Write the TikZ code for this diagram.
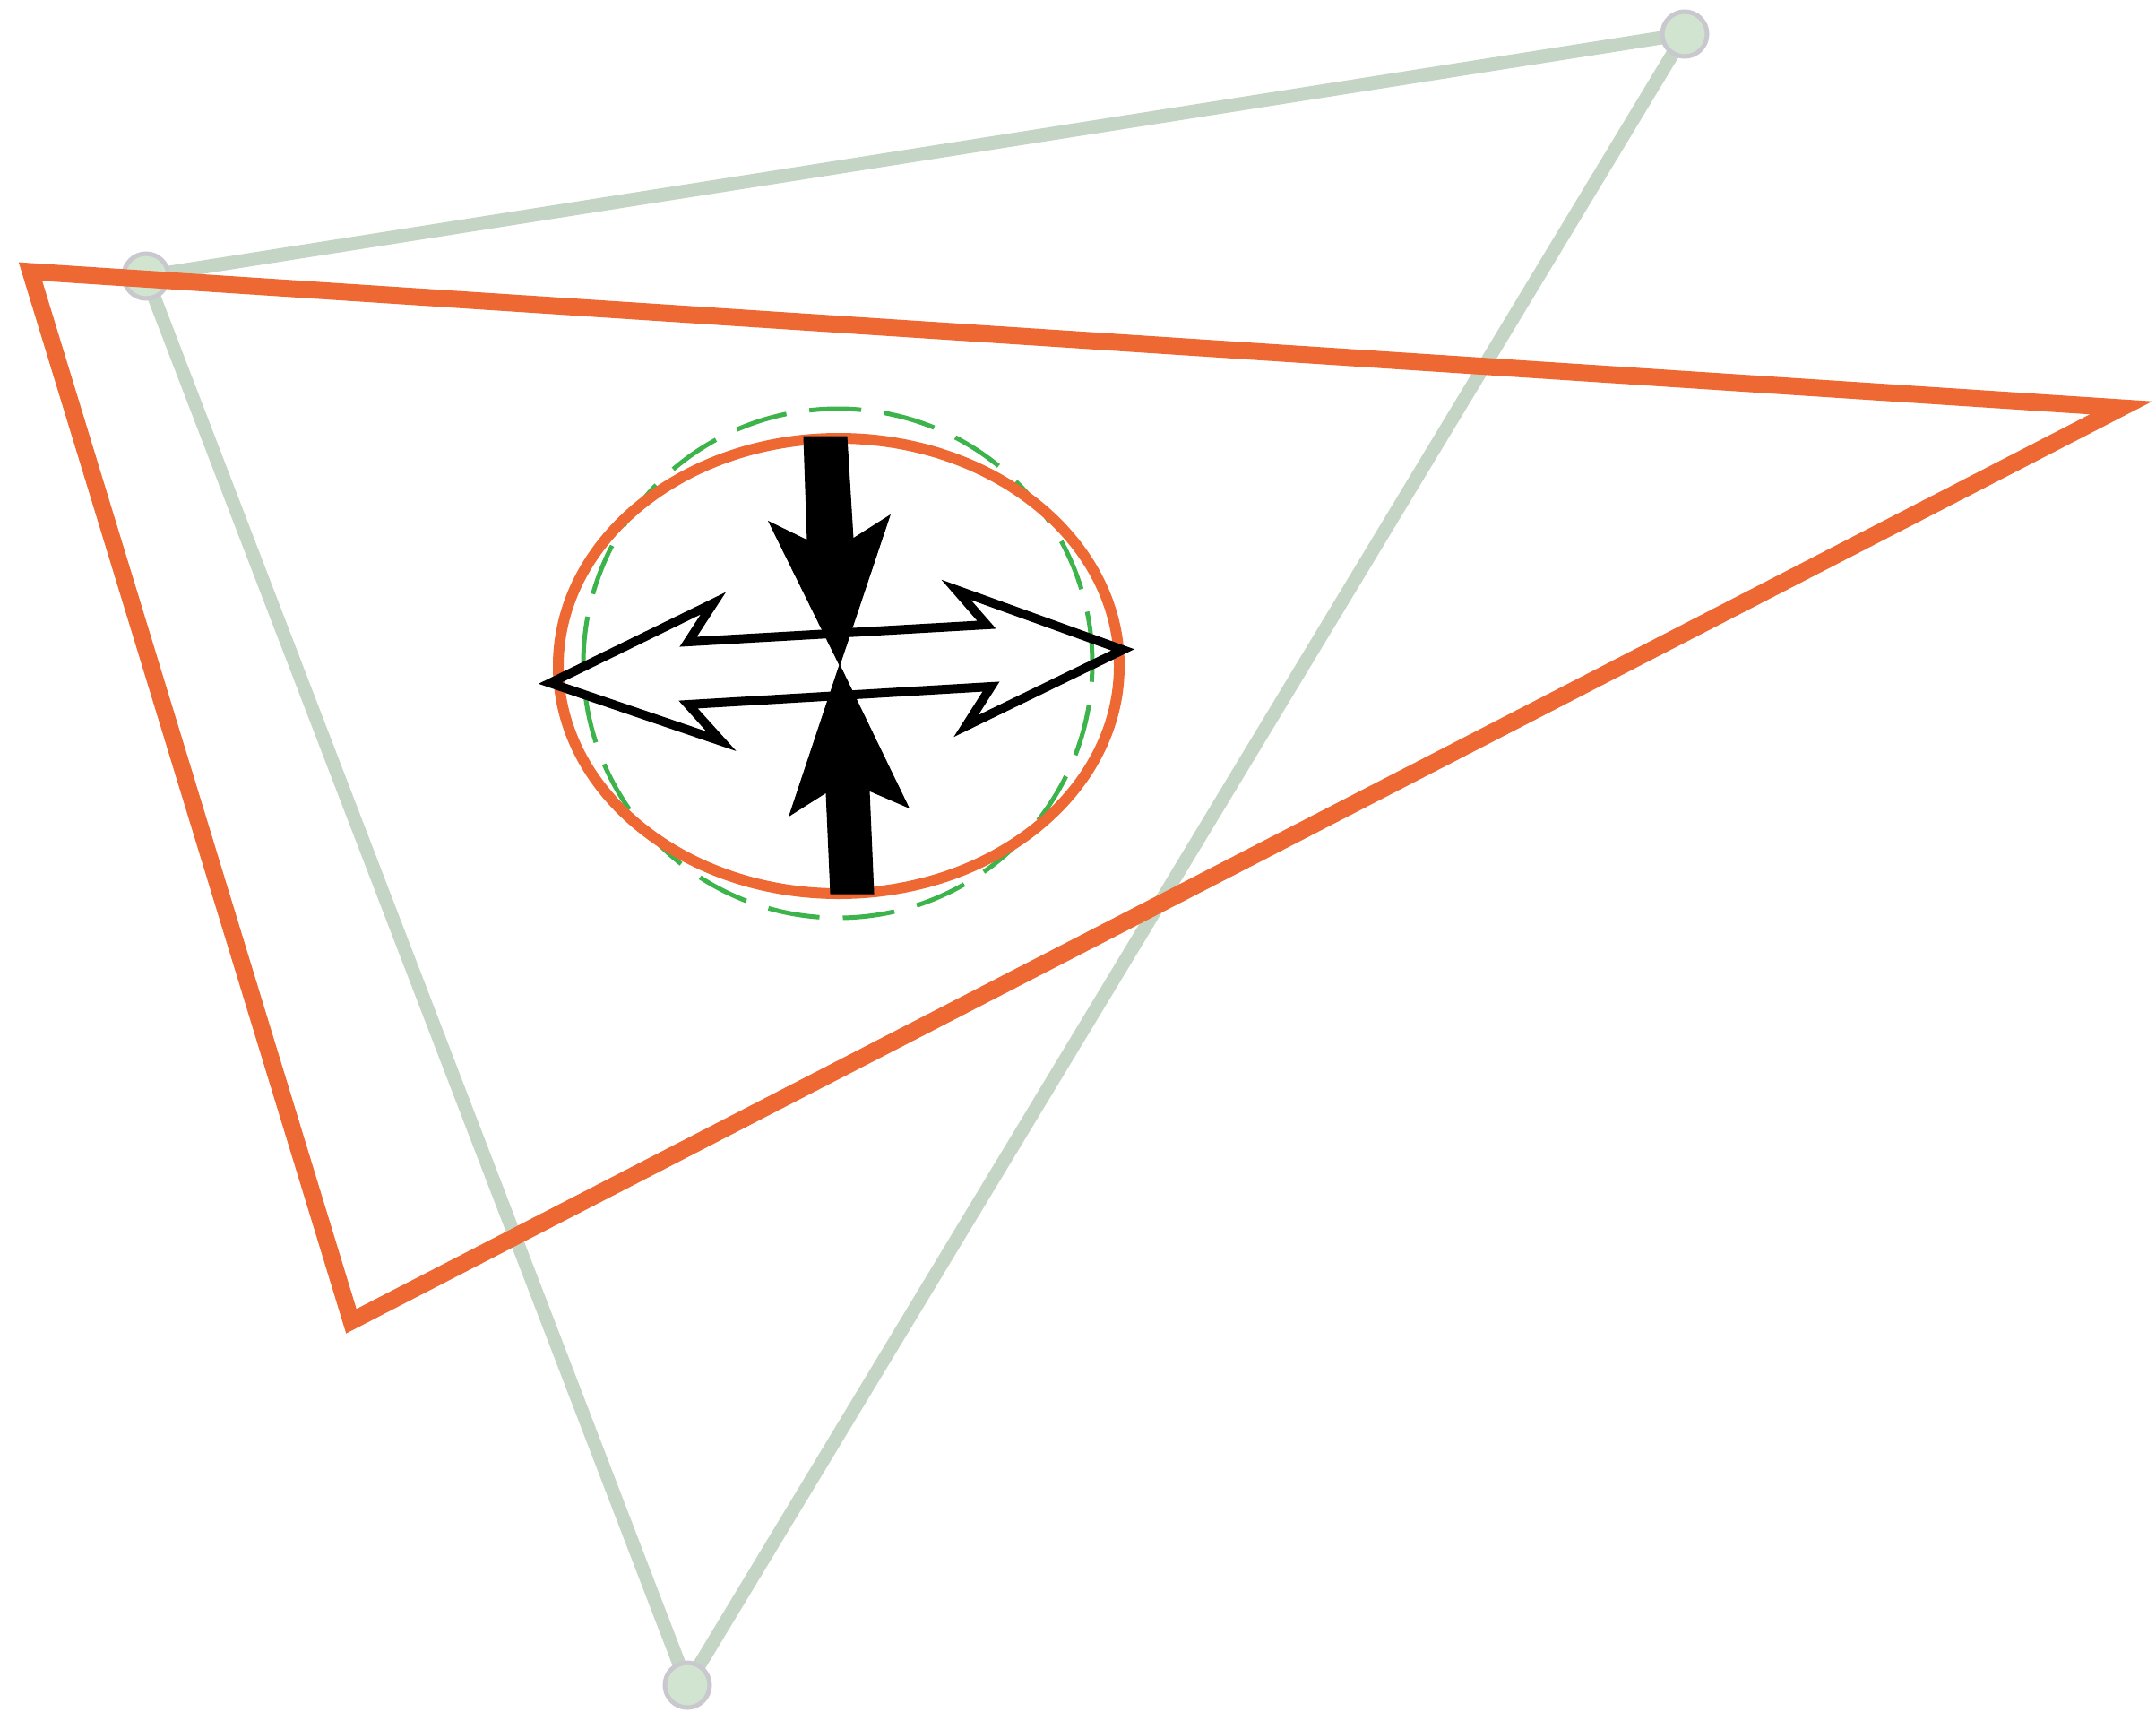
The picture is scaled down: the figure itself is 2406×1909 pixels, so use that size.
\documentclass[tikz,border=0pt]{standalone}
\definecolor{orng}{RGB}{237,104,50}
\definecolor{sage}{RGB}{197,213,197}
\definecolor{dotfill}{RGB}{208,228,208}
\definecolor{dotline}{RGB}{200,200,206}
\definecolor{dgreen}{RGB}{60,180,75}
\begin{document}
\begin{tikzpicture}[x=1pt,y=-1pt,
  greyline/.style={draw=sage,line width=15pt},
  vdot/.style={fill=dotfill,draw=dotline,line width=5pt},
  otri/.style={draw=orng,line width=19pt,line join=miter},
  oell/.style={draw=orng,line width=12pt},
  gcirc/.style={draw=dgreen,line width=5pt,dash pattern=on 58pt off 26pt},
  solidarrow/.style={fill=black,draw=black,line width=1pt,line join=miter},
  openarrow/.style={draw=black,fill=none,line width=10pt,line join=miter}]
\useasboundingbox (0,0) rectangle (2406,1909);
% grey triangle
\coordinate (g1) at (1880,38);
\coordinate (g2) at (163,308);
\coordinate (g3) at (767,1880);
\draw[greyline] (g1) -- (g2) -- (g3) -- cycle;
\foreach \p in {g1,g2,g3} \fill[vdot] (\p) circle (25pt);
% orange triangle
\coordinate (o1) at (34,303);
\coordinate (o2) at (2367,455);
\coordinate (o3) at (392,1474);
\draw[otri] (o1) -- (o2) -- (o3) -- cycle;
% circles
\coordinate (c) at (936,743);
\draw[gcirc] (935,740) circle (284pt);
\draw[oell] (c) ellipse [x radius=313pt, y radius=254pt];
% solid arrows
\draw[solidarrow] (897,487) -- (945,487) -- (952,601) -- (993,575) -- (937,742)
  -- (858,582) -- (901,603) -- cycle;
\draw[solidarrow] (927,997) -- (975,997) -- (970,882) -- (1014,901) -- (937,742)
  -- (881,910) -- (922,884) -- cycle;
% open double arrow
\draw[openarrow] (614,762) -- (796,673) -- (768,716) -- (1101,697) -- (1067,658)
  -- (1253,725) -- (1078,810) -- (1106,766) -- (768,786) -- (805,827) -- cycle;
\end{tikzpicture}
\end{document}
